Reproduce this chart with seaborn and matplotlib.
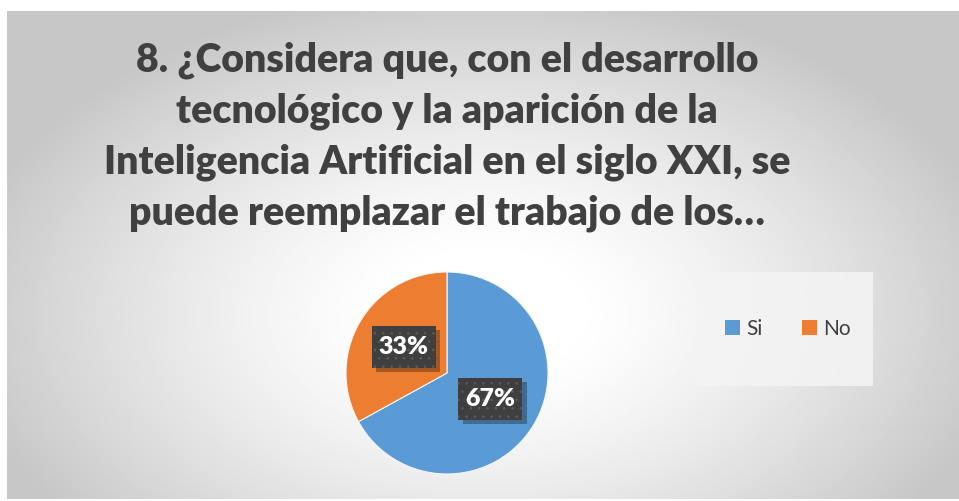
import numpy as np
import matplotlib.pyplot as plt
import matplotlib.patheffects as pe
import seaborn as sns
from matplotlib.patches import Rectangle, Patch

# data
categories = ['Si', 'No']
values = [67, 33]
colors = ['#5B9BD5', '#ED7D31']
title_lines = [
    '8. ¿Considera que, con el desarrollo',
    'tecnológico y la aparición de la',
    'Inteligencia Artificial en el siglo XXI, se',
    'puede reemplazar el trabajo de los…',
]

sns.set_theme(style='white')
plt.rcParams['font.family'] = ['Lato', 'DejaVu Sans']
plt.rcParams['hatch.linewidth'] = 0.6

W, H = 959, 501
fig = plt.figure(figsize=(W / 100, H / 100), dpi=100, facecolor='white')

def fx(px):
    return px / W

def fy(py):
    return 1 - py / H

# chart area with radial gradient
x0, y0, x1, y1 = 7, 11, 959, 499
bg = fig.add_axes([fx(x0), fy(y1), fx(x1 - x0), (y1 - y0) / H])
gx, gy = np.meshgrid(np.linspace(0, 1, 400), np.linspace(0, 1, 200))
d = np.sqrt(((gx - 0.5) / 0.62) ** 2 + ((gy - 0.62) / 0.75) ** 2)
shade = np.clip(1 - 0.22 * np.clip((d - 0.15) / 0.75, 0, 1) ** 1.3, 0, 1)
bg.imshow(shade, cmap='gray', vmin=0, vmax=1, aspect='auto', extent=[0, 1, 0, 1], origin='upper')
bg.set_axis_off()

# title
for i, line in enumerate(title_lines):
    fig.text(fx(447), fy(60 + i * 51), line, ha='center', va='center',
             fontsize=28.3, fontweight='heavy', color='#404040')

# pie
cx, cy, r = 447, 373, 101
ax = fig.add_axes([fx(cx - r), fy(cy + r), fx(2 * r), 2 * r / H])
wedges, _ = ax.pie(values, colors=colors, startangle=90, counterclock=False,
                   radius=1, wedgeprops=dict(linewidth=0.8, edgecolor='#f5f5f5'))
ax.set_xlim(-1, 1)
ax.set_ylim(-1, 1)
ax.set_axis_off()

# data labels: dark dotted boxes (64x42 px) with shadow
bw, bh = 64 / r, 42 / r
for w, v in zip(wedges, values):
    ang = np.deg2rad((w.theta1 + w.theta2) / 2)
    tx, ty = 0.5 * np.cos(ang), 0.5 * np.sin(ang)
    box = Rectangle((tx - bw / 2, ty - bh / 2), bw, bh, facecolor='#3f3f3f',
                    edgecolor='#5c5c5c', hatch='..', linewidth=0, zorder=3)
    box.set_path_effects([
        pe.SimplePatchShadow(offset=(3, -3), shadow_rgbFace='black', alpha=0.3),
        pe.Normal()])
    ax.add_patch(box)
    ax.text(tx, ty, f'{v}%', ha='center', va='center', fontsize=18,
            fontweight='heavy', color='white', zorder=4)

# legend box
fig.patches.append(Rectangle((fx(697), fy(386)), fx(873 - 697), (386 - 272) / H,
                             transform=fig.transFigure, facecolor='#f4f4f4',
                             edgecolor='none', alpha=0.85))
handles = [Patch(facecolor=c, edgecolor='none') for c in colors]
fig.legend(handles, categories, loc='center', bbox_to_anchor=(fx(788), fy(329)),
           ncol=2, frameon=False, fontsize=15, handlelength=0.7, handleheight=0.7,
           handletextpad=0.3, columnspacing=1.9, labelcolor='#404040')

fig.savefig('out.png', dpi=100, facecolor='white')
